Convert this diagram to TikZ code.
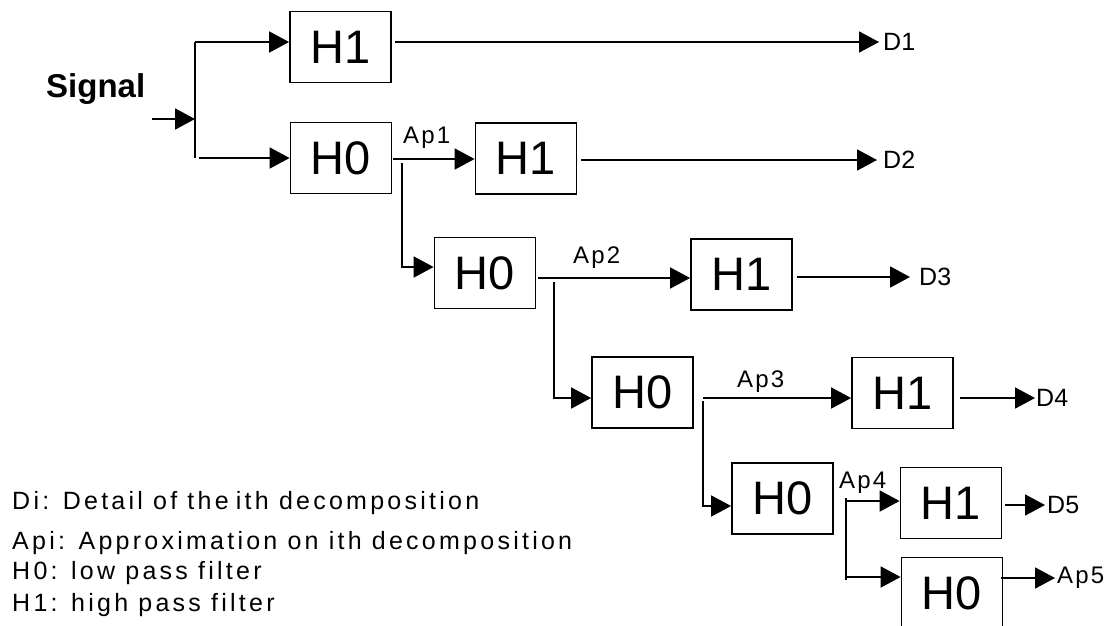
\documentclass[tikz,border=0pt]{standalone}
\usepackage{fontspec}
\setmainfont{Liberation Sans}
\usetikzlibrary{arrows.meta,calc}
\begin{document}
\begin{tikzpicture}[x=1pt,y=-1pt,
  box/.style={draw, line width=1.8pt, minimum width=101pt, minimum height=71pt, inner sep=0pt, font=\fontsize{47}{47}\selectfont},
  wire/.style={line width=1.8pt},
  arr/.style={wire, -{Triangle[length=20pt,width=21pt]}},
  dlab/.style={inner sep=0pt, anchor=west, font=\fontsize{25}{25}\selectfont},
  aplab/.style={inner sep=0pt, anchor=base west, font=\fontsize{24}{24}\selectfont\addfontfeature{LetterSpace=9}},
  leg/.style={inner sep=0pt, anchor=base west, font=\fontsize{25}{25}\selectfont\addfontfeature{LetterSpace=13}}]
\useasboundingbox (0,0) rectangle (1113,625);
\clip (0,0) rectangle (1113,625);

% boxes
\node[box] (A) at (340.5,47) {H1};
\node[box] (B) at (341,158) {H0};
\node[box] (C) at (526,158.5) {H1};
\node[box] (E) at (485,273) {H0};
\node[box] (F) at (741.5,274.5) {H1};
\node[box] (G) at (642.5,392.5) {H0};
\node[box] (I) at (902.5,393) {H1};
\node[box] (J) at (782.5,498.5) {H0};
\node[box] (K) at (951,503) {H1};
\node[box] (L) at (952,593) {H0};

% input
\node[inner sep=0pt, anchor=base west, font=\fontsize{33}{33}\selectfont\bfseries] (sig) at (46,97) {Signal};
\coordinate (in) at (152,119);
\coordinate (s1) at (195,42);
\coordinate (s2) at (195,158);
\coordinate (s3) at (199,158);
\draw[wire] (s1) -- (s2);
\draw[arr] (in) -- (in -| s1);
\draw[arr] (s1) -- (s1 -| A.west);
\draw[arr] (s3) -- (s3 -| B.west);

% outputs labels
\node[dlab] (D1) at (883,42) {D1};
\node[dlab] (D2) at (883,160) {D2};
\node[dlab] (D3) at (919,277) {D3};
\node[dlab] (D4) at (1036,398) {D4};
\node[dlab] (D5) at (1047,505) {D5};
\node[aplab] (ap1) at (403,143) {Ap1};
\node[aplab] (ap2) at (573,263) {Ap2};
\node[aplab] (ap3) at (737,387) {Ap3};
\node[aplab] (ap4) at (839,488) {Ap4};
\node[inner sep=0pt, anchor=west, font=\fontsize{24}{24}\selectfont\addfontfeature{LetterSpace=9}] (ap5) at (1057,578) {Ap5};

% level 1
\draw[arr, shorten <=3pt] (A.east |- D1.west) -- ([xshift=-4pt]D1.west);
\coordinate (b1) at (402,159);
\coordinate (b2) at (402,163);
\coordinate (b3) at (402,267);
\draw[arr, shorten <=1pt] (B.east |- b1) -- (b1 -| C.west);
\draw[arr] (b2) -- (b3) -- (b3 -| E.west);

% level 2
\draw[arr, shorten <=4pt] (C.east |- D2.west) -- ([xshift=-6pt]D2.west);
\coordinate (e1) at (554,278);
\coordinate (e2) at (554,282);
\coordinate (e3) at (554,398);
\draw[arr, shorten <=2pt] (E.east |- e1) -- (e1 -| F.west);
\draw[arr] (e2) -- (e3) -- (e3 -| G.west);

% level 3
\draw[arr, shorten <=4pt] (F.east |- D3.west) -- ([xshift=-9pt]D3.west);
\coordinate (g1) at (703,398);
\coordinate (g2) at (703,401);
\coordinate (g3) at (703,506);
\draw[arr] (g1) -- (g1 -| I.west);
\draw[arr] (g2) -- (g3) -- (g3 -| J.west);

% level 4
\draw[arr, shorten <=6pt] (I.east |- D4.west) -- ([xshift=-1pt]D4.west);
\coordinate (j1) at (846,498);
\coordinate (j2) at (846,501);
\coordinate (j3) at (846,577);
\coordinate (j4) at (846,580);
\draw[wire] (j1) -- (j4);
\draw[arr] (j2) -- (j2 -| K.west);
\draw[arr] (j3) -- (j3 -| L.west);

% level 5
\draw[arr, shorten <=3pt] (K.east |- D5.west) -- ([xshift=-2pt]D5.west);
\draw[arr, shorten <=-2pt] (L.east |- ap5.west) -- ([xshift=-2pt]ap5.west);

% legend
\node[leg] (l1) at (12,509) {Di: Detail of the\kern-0.12em\ ith decomposition};
\node[leg] (l2) at (12,549) {Api: Approximation on ith decomposition};
\node[leg] (l3) at (12,579) {H0: low pass filter};
\node[leg] (l4) at (12,611) {H1: high pass filter};
\end{tikzpicture}
\end{document}
